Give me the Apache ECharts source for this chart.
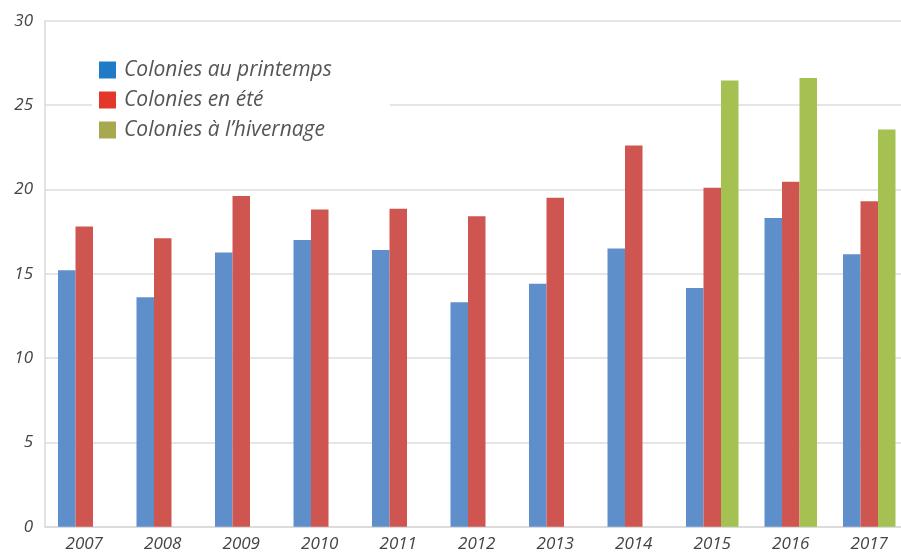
<!DOCTYPE html>
<html>
<head>
<meta charset="utf-8">
<script src="https://cdn.jsdelivr.net/npm/echarts@6/dist/echarts.min.js"></script>
<style>
html,body{margin:0;padding:0;background:#fff;}
#chart{width:901px;height:553px;}
</style>
</head>
<body>
<div id="chart"></div>
<script>
const years = ['2007','2008','2009','2010','2011','2012','2013','2014','2015','2016','2017'];
const printemps = [15.2, 13.6, 16.25, 17.0, 16.4, 13.3, 14.4, 16.5, 14.15, 18.3, 16.15];
const ete = [17.8, 17.1, 19.6, 18.8, 18.85, 18.4, 19.5, 22.6, 20.1, 20.45, 19.3];
const hivernage = [null, null, null, null, null, null, null, null, 26.45, 26.6, 23.55];
const yTicks = [0, 5, 10, 15, 20, 25, 30];
const names = ['Colonies au printemps', 'Colonies en été', 'Colonies à l\u2019hivernage'];

const font = 'Open Sans';
const chart = echarts.init(document.getElementById('chart'));
const barW = 17.5;
chart.setOption({
  animation: false,
  backgroundColor: '#fff',
  grid: { left: 45, top: 20.7, width: 863.5, bottom: 26.3, containLabel: false, outerBoundsMode: 'none' },
  legend: {
    orient: 'vertical',
    left: 92, top: 52.5,
    padding: [7, 58, 7, 7],
    backgroundColor: '#fff',
    itemWidth: 17, itemHeight: 17, itemGap: 9,
    icon: 'rect',
    textStyle: { fontFamily: font, fontStyle: 'italic', fontSize: 21, color: '#555', padding: [0, 0, 0, 3] },
    data: [
      { name: names[0], itemStyle: { color: '#1f7bc6' } },
      { name: names[1], itemStyle: { color: '#e3372a' } },
      { name: names[2], itemStyle: { color: '#a8a84e' } }
    ]
  },
  xAxis: {
    type: 'category',
    data: years,
    axisLine: { show: true, lineStyle: { color: '#d9d9d9', width: 1.5 } },
    axisTick: { show: false },
    axisLabel: { fontFamily: font, fontStyle: 'italic', fontSize: 17, color: '#444', margin: 9 }
  },
  yAxis: {
    type: 'value',
    min: yTicks[0], max: yTicks[yTicks.length - 1], interval: 5,
    axisLine: { show: true, lineStyle: { color: '#d9d9d9', width: 1.5 } },
    axisTick: { show: false },
    splitLine: { lineStyle: { color: '#dcdcdc', width: 1.5 } },
    axisLabel: { fontFamily: font, fontStyle: 'italic', fontSize: 17, color: '#444', margin: 12 }
  },
  series: [
    { name: names[0], type: 'bar', data: printemps, barWidth: barW, barGap: '0%', itemStyle: { color: '#5e8fcb' } },
    { name: names[1], type: 'bar', data: ete, barWidth: barW, barGap: '0%', itemStyle: { color: '#cf5650' } },
    { name: names[2], type: 'bar', data: hivernage, barWidth: barW, barGap: '0%', itemStyle: { color: '#a5c152' } }
  ]
});
</script>
</body>
</html>
